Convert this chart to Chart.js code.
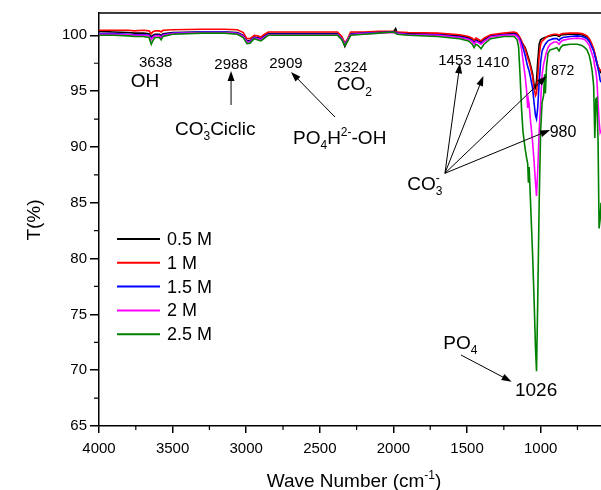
<!DOCTYPE html>
<html>
<head>
<meta charset="utf-8">
<script src="https://cdn.jsdelivr.net/npm/chart.js@4.4.1/dist/chart.umd.min.js"></script>
<style>
html,body{margin:0;padding:0;background:#fff;}
canvas{display:block;}
</style>
</head>
<body>
<canvas id="c" width="601" height="490"></canvas>
<script>
// ---- DATA ----
const wavenumbers = [4000,3900,3800,3760,3700,3660,3645,3635,3620,3590,3578,3565,3500,3300,3150,3060,3020,2995,2975,2945,2925,2900,2880,2850,2700,2500,2380,2350,2330,2315,2290,2200,2100,2000,1985,1975,1900,1700,1550,1490,1465,1452,1440,1425,1405,1385,1340,1250,1180,1160,1150,1140,1130,1120,1105,1095,1088,1083,1078,1070,1055,1045,1035,1028,1020,1010,1000,990,980,973,968,960,950,935,910,890,875,865,850,800,750,720,700,685,670,660,650,640,632,625,618,610,603,596,590];

const series_05M = [100.35,100.3,100.25,100.2,100.2,100.15,99.85,100.0,100.1,100.1,100.0,100.15,100.25,100.3,100.3,100.25,100.0,99.5,99.5,99.85,99.8,99.7,99.9,100.15,100.15,100.15,100.15,99.7,99.0,99.4,100.15,100.2,100.25,100.3,100.6,100.2,100.15,100.1,99.95,99.8,99.6,99.4,99.6,99.5,99.4,99.6,99.95,100.1,100.2,100.1,99.9,99.7,99.4,99.2,98.9,98.5,98.2,98.0,97.8,97.4,96.6,95.6,95.3,95.9,97.6,99.2,99.6,99.7,99.75,99.8,99.8,99.85,99.9,99.95,100.0,100.0,99.9,100.0,100.05,100.1,100.1,100.05,99.95,99.85,99.6,99.3,99.0,98.7,98.3,97.9,97.5,97.2,97.0,96.8,96.6];

const series_1M = [100.45,100.45,100.45,100.4,100.45,100.4,100.15,100.3,100.4,100.4,100.3,100.45,100.5,100.55,100.55,100.5,100.25,99.7,99.7,100.0,99.95,99.85,100.05,100.3,100.3,100.3,100.3,99.9,99.3,99.6,100.3,100.3,100.35,100.35,100.3,100.3,100.25,100.2,100.05,99.9,99.75,99.55,99.75,99.65,99.5,99.75,100.05,100.2,100.3,100.2,100.0,99.8,99.5,99.2,98.8,98.3,98.0,97.8,97.6,97.2,96.3,95.3,94.6,94.8,96.2,98.2,99.2,99.5,99.6,99.7,99.75,99.85,99.95,100.0,100.1,100.1,100.0,100.1,100.15,100.2,100.2,100.15,100.05,99.95,99.7,99.45,99.15,98.8,98.4,98.0,97.6,97.2,97.0,96.9,96.8];

const series_15M = [100.15,100.15,100.1,100.05,100.05,100.0,99.7,99.85,100.0,100.0,99.85,100.05,100.2,100.3,100.3,100.2,99.95,99.45,99.45,99.8,99.75,99.65,99.85,100.1,100.1,100.1,100.1,99.7,99.2,99.5,100.1,100.2,100.25,100.3,100.25,100.2,100.1,100.05,99.85,99.7,99.5,99.3,99.5,99.4,99.3,99.5,99.9,100.05,100.1,100.0,99.85,99.6,99.3,98.9,98.2,97.6,97.2,97.0,96.8,96.3,95.3,94.0,92.8,92.5,93.5,95.8,97.6,98.6,98.9,99.1,99.2,99.35,99.5,99.6,99.7,99.7,99.55,99.7,99.8,99.9,99.95,99.9,99.8,99.7,99.45,99.2,98.9,98.6,98.2,97.9,97.5,97.0,96.6,96.0,95.8];

const series_2M = [100.1,100.1,100.05,100.0,100.0,99.95,99.6,99.8,99.95,99.95,99.8,100.0,100.15,100.25,100.25,100.15,99.9,99.4,99.4,99.75,99.7,99.6,99.8,100.05,100.05,100.05,100.05,99.7,99.2,99.5,100.05,100.15,100.2,100.25,100.2,100.15,100.05,100.0,99.8,99.65,99.45,99.2,99.45,99.35,99.2,99.45,99.85,100.0,100.05,99.9,99.7,99.4,98.8,97.8,96.3,95.0,93.5,94.2,93.8,92.5,90.5,88.8,86.8,85.6,87.8,91.4,94.0,96.5,97.4,97.8,98.1,98.5,98.9,99.2,99.4,99.4,99.2,99.4,99.55,99.7,99.75,99.7,99.6,99.4,99.1,98.7,98.3,97.9,97.2,96.8,96.0,94.0,92.3,91.3,91.5];

const series_25M = [100.0,100.0,99.95,99.9,99.9,99.8,99.2,99.5,99.8,99.8,99.6,99.9,100.1,100.2,100.2,100.1,99.8,99.25,99.3,99.7,99.6,99.5,99.7,100.0,100.0,100.0,100.0,99.6,99.1,99.4,100.0,100.1,100.2,100.3,100.2,100.1,100.0,99.9,99.7,99.5,99.2,98.9,99.2,99.1,98.8,99.2,99.7,99.9,99.9,99.6,99.0,96.5,93.5,91.4,89.8,89.0,88.5,86.8,88.2,85.5,80.5,76.5,72.0,69.9,76.0,85.0,91.5,94.0,94.6,96.5,94.8,97.2,98.4,98.7,98.8,98.9,98.6,98.9,99.1,99.2,99.2,99.1,98.9,98.7,98.2,97.6,96.8,95.5,90.8,94.3,94.4,90.5,82.7,83.5,85.0];

const seriesNames = ['0.5 M','1 M','1.5 M','2 M','2.5 M'];
const seriesValues = [series_05M, series_1M, series_15M, series_2M, series_25M];
const seriesColors = ['#000000','#ff0000','#0000ff','#ff00ff','#008000'];

const xTickValues = [4000,3500,3000,2500,2000,1500,1000];
const xMinorTickValues = [3750,3250,2750,2250,1750,1250,750];
const yTickValues = [65,70,75,80,85,90,95,100];
const yMinorTickValues = [67.5,72.5,77.5,82.5,87.5,92.5,97.5];
const xRange = [590, 4000];
const yRange = [65, 102];

// annotation labels, positioned in data units (wavenumber, %T)
const peakLabels = [
  {segs:[['n','3638']], w:3615, v:97.64, size:15, align:'center'},
  {segs:[['n','OH']], w:3687, v:95.94, size:19, align:'center'},
  {segs:[['n','2988']], w:3103, v:97.49, size:15, align:'center'},
  {segs:[['n','CO'],['sub','3'],['sup','-',1],['n','Ciclic']], w:3484, v:91.72, size:19, align:'left'},
  {segs:[['n','2909']], w:2730, v:97.52, size:15, align:'center'},
  {segs:[['n','PO'],['sub','4'],['n','H'],['sup','2-'],['n','-OH']], w:2682, v:90.92, size:19, align:'left'},
  {segs:[['n','2324']], w:2290, v:97.19, size:15, align:'center'},
  {segs:[['n','CO'],['sub','2']], w:2385, v:95.70, size:19, align:'left'},
  {segs:[['n','1453']], w:1582, v:97.85, size:15, align:'center'},
  {segs:[['n','1410']], w:1326, v:97.64, size:15, align:'center'},
  {segs:[['n','872']], w:850, v:96.89, size:14, align:'center'},
  {segs:[['n','980']], w:848, v:91.37, size:16, align:'center'},
  {segs:[['n','CO'],['sub','3'],['sup','-',1]], w:1906, v:86.80, size:19, align:'left'},
  {segs:[['n','PO'],['sub','4']], w:1661, v:72.55, size:19, align:'left'},
  {segs:[['n','1026']], w:1031, v:68.29, size:19, align:'center'}
];
const arrows = [
  [3103,93.76, 3103,96.81],
  [2397,92.68, 2696,96.72],
  [1650,87.64, 1548,97.49],
  [1650,87.64, 1389,96.36],
  [1650,87.64, 959,96.36],
  [1650,87.64, 936,91.52],
  [1541,71.36, 1197,68.97]
];

// ---- CHART ----
const FONT = '"Liberation Sans", Arial, Helvetica, sans-serif';

const datasets = seriesNames.map((name, i) => ({
  label: name,
  data: wavenumbers.map((w, j) => ({x: w, y: seriesValues[i][j]})),
  borderColor: seriesColors[i],
  backgroundColor: seriesColors[i],
  borderWidth: 1.6,
  pointRadius: 0,
  tension: 0,
  fill: false,
  order: seriesNames.length - i
}));

function layoutRich(ctx, segs, size) {
  let x = 0, prevStart = 0;
  const items = [];
  for (const s of segs) {
    const kind = s[0], txt = s[1], same = s[2];
    const fs = kind === 'n' ? size : Math.round(size * 0.65);
    ctx.font = fs + 'px ' + FONT;
    const w = ctx.measureText(txt).width;
    const sx = same ? prevStart : x;
    items.push({kind, txt, fs, sx});
    prevStart = sx;
    x = Math.max(x, sx + w);
  }
  return {items, width: x};
}
function drawRich(ctx, segs, x, y, size, align) {
  const L = layoutRich(ctx, segs, size);
  let x0 = align === 'center' ? x - L.width / 2 : x;
  const base = y + size * 0.36;
  ctx.textAlign = 'left';
  ctx.textBaseline = 'alphabetic';
  ctx.fillStyle = '#000';
  for (const it of L.items) {
    ctx.font = it.fs + 'px ' + FONT;
    let yy = base;
    if (it.kind === 'sub') yy = base + size * 0.3;
    if (it.kind === 'sup') yy = base - size * 0.42;
    ctx.fillText(it.txt, x0 + it.sx, yy);
  }
}
function drawArrow(ctx, x1, y1, x2, y2) {
  const ang = Math.atan2(y2 - y1, x2 - x1);
  const hl = 10, hw = 3.5;
  ctx.strokeStyle = '#000';
  ctx.fillStyle = '#000';
  ctx.lineWidth = 1;
  ctx.beginPath();
  ctx.moveTo(x1, y1);
  ctx.lineTo(x2 - Math.cos(ang) * hl * 0.8, y2 - Math.sin(ang) * hl * 0.8);
  ctx.stroke();
  ctx.beginPath();
  ctx.moveTo(x2, y2);
  ctx.lineTo(x2 - Math.cos(ang) * hl - Math.sin(ang) * hw, y2 - Math.sin(ang) * hl + Math.cos(ang) * hw);
  ctx.lineTo(x2 - Math.cos(ang) * hl + Math.sin(ang) * hw, y2 - Math.sin(ang) * hl - Math.cos(ang) * hw);
  ctx.closePath();
  ctx.fill();
}

const decor = {
  id: 'decor',
  afterDraw(chart) {
    const ctx = chart.ctx;
    const xs = chart.scales.x, ys = chart.scales.y;
    const ca = chart.chartArea;
    ctx.save();
    // top frame
    ctx.strokeStyle = '#000';
    ctx.lineWidth = 1.5;
    ctx.beginPath();
    ctx.moveTo(ca.left, ca.top);
    ctx.lineTo(ca.right, ca.top);
    ctx.stroke();
    // minor ticks
    ctx.lineWidth = 1.2;
    ctx.beginPath();
    xMinorTickValues.forEach(w => {
      const px = xs.getPixelForValue(w);
      ctx.moveTo(px, ca.bottom);
      ctx.lineTo(px, ca.bottom + 4);
    });
    yMinorTickValues.forEach(v => {
      const py = ys.getPixelForValue(v);
      ctx.moveTo(ca.left, py);
      ctx.lineTo(ca.left - 5, py);
    });
    ctx.stroke();
    // legend
    const lx = ca.left + 18, ly = ca.top + 226, rowH = 23.8;
    seriesNames.forEach((n, i) => {
      const y = ly + i * rowH;
      ctx.strokeStyle = seriesColors[i];
      ctx.lineWidth = 2;
      ctx.beginPath();
      ctx.moveTo(lx, y);
      ctx.lineTo(lx + 43, y);
      ctx.stroke();
      ctx.fillStyle = '#000';
      ctx.font = '18px ' + FONT;
      ctx.textAlign = 'left';
      ctx.textBaseline = 'middle';
      ctx.fillText(n, lx + 50, y + 1);
    });
    // arrows
    arrows.forEach(a => {
      drawArrow(ctx, xs.getPixelForValue(a[0]), ys.getPixelForValue(a[1]),
                     xs.getPixelForValue(a[2]), ys.getPixelForValue(a[3]));
    });
    // labels
    peakLabels.forEach(l => {
      drawRich(ctx, l.segs, xs.getPixelForValue(l.w), ys.getPixelForValue(l.v), l.size, l.align);
    });
    // axis titles
    drawRich(ctx, [['n','Wave Number (cm'],['sup','-1'],['n',')']], 354, 480, 19, 'center');
    ctx.save();
    ctx.translate(35, 220);
    ctx.rotate(-Math.PI / 2);
    ctx.fillStyle = '#000';
    ctx.font = '19px ' + FONT;
    ctx.textAlign = 'center';
    ctx.textBaseline = 'middle';
    ctx.fillText('T(%)', 0, 0);
    ctx.restore();
    ctx.restore();
  }
};

new Chart(document.getElementById('c'), {
  type: 'line',
  data: {datasets},
  plugins: [decor],
  options: {
    responsive: false,
    animation: false,
    devicePixelRatio: 1,
    layout: {padding: {top: 13, right: 0, left: 0, bottom: 0}},
    plugins: {legend: {display: false}, tooltip: {enabled: false}, title: {display: false}},
    scales: {
      x: {
        type: 'linear', reverse: true, min: xRange[0], max: xRange[1],
        afterBuildTicks: s => { s.ticks = xTickValues.map(v => ({value: v})); },
        ticks: {color: '#000', font: {size: 15, family: FONT}, padding: 7, maxRotation: 0, autoSkip: false, callback: v => String(v)},
        grid: {display: true, drawOnChartArea: false, drawTicks: true, tickLength: 7, color: '#000', lineWidth: 1.5},
        border: {display: true, color: '#000', width: 1.5},
        afterFit: s => { s.height = 64; }
      },
      y: {
        type: 'linear', min: yRange[0], max: yRange[1],
        afterBuildTicks: s => { s.ticks = yTickValues.map(v => ({value: v})); },
        ticks: {color: '#000', font: {size: 15, family: FONT}, padding: 3, autoSkip: false, callback: v => String(v)},
        grid: {display: true, drawOnChartArea: false, drawTicks: true, tickLength: 9, color: '#000', lineWidth: 1.5},
        border: {display: true, color: '#000', width: 1.5},
        afterFit: s => { s.width = 99; }
      }
    }
  }
});
</script>
</body>
</html>
